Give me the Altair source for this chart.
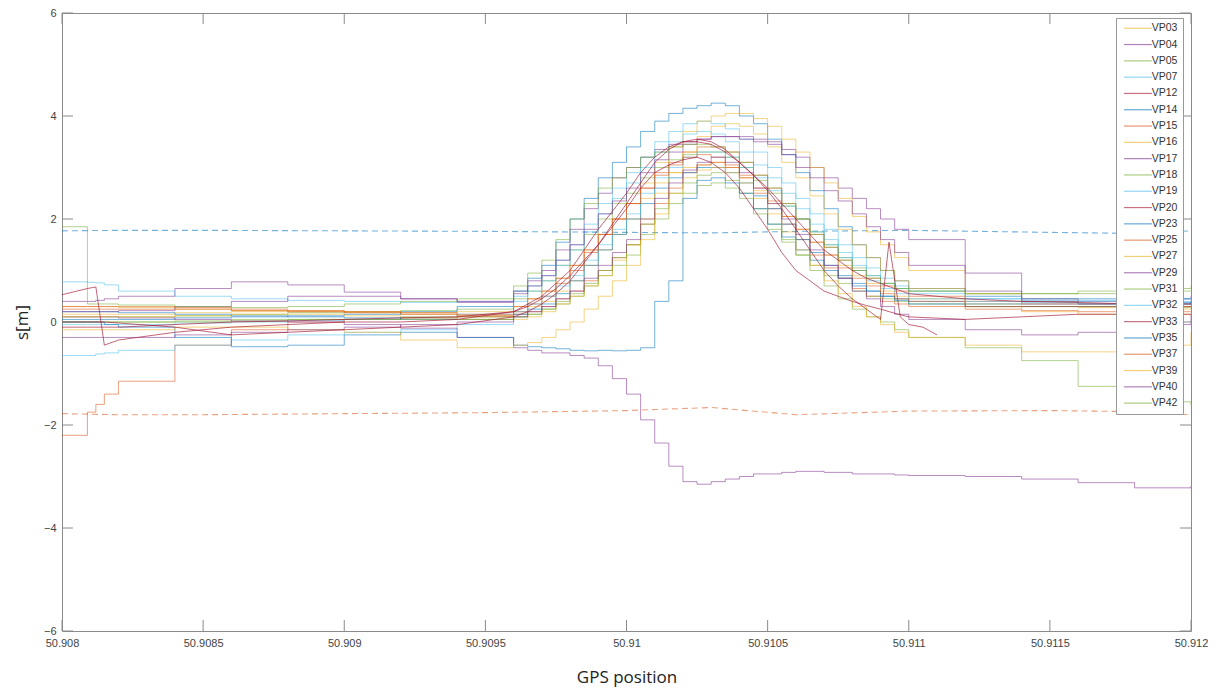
import altair as alt
import pandas as pd

# ---------------- data ----------------
GRID = [50.9080, 50.90809, 50.90812, 50.90815, 50.9082, 50.9084, 50.9086, 50.9088, 50.9090, 50.9092, 50.9094,
        50.9096, 50.90965, 50.9097, 50.90975, 50.9098, 50.90985, 50.9099, 50.90995, 50.9100, 50.91005,
        50.9101, 50.91015, 50.9102, 50.91025, 50.9103, 50.91035, 50.9104, 50.91045, 50.9105, 50.91055,
        50.9106, 50.91065, 50.9107, 50.91075, 50.9108, 50.91085, 50.9109, 50.91095, 50.9110,
        50.9112, 50.9114, 50.9116, 50.9118, 50.9120]

VP03 = [0.30, 0.30, 0.30, 0.30, 0.28, 0.25, 0.22, 0.20, 0.18, 0.15, 0.12,
        0.2, 0.3, 0.4, 0.6, 0.8, 1.1, 1.4, 1.7, 2.0, 2.4, 2.7, 2.9, 3.0, 3.05, 3.1,
        3.0, 2.8, 2.55, 2.3, 2.05, 1.8, 1.55, 1.3, 1.1, 0.9, 0.75, 0.6, 0.5, 0.45,
        0.35, 0.3, 0.28, 0.25, 0.25]
VP04 = [0.40, 0.40, 0.42, 0.45, 0.50, 0.65, 0.78, 0.72, 0.58, 0.45, 0.38,
        0.6, 0.8, 1.0, 1.4, 1.8, 2.2, 2.5, 2.8, 3.0, 3.2, 3.35, 3.45, 3.5, 3.55, 3.6,
        3.6, 3.6, 3.55, 3.5, 3.35, 3.2, 3.0, 2.8, 2.6, 2.4, 2.2, 2.0, 1.8, 1.6,
        0.95, 0.45, 0.4, 0.45, 0.5]
VP05 = [0.10, 0.10, 0.10, 0.10, 0.10, 0.12, 0.15, 0.18, 0.20, 0.22, 0.25,
        0.45, 0.6, 0.8, 1.1, 1.4, 1.7, 2.0, 2.3, 2.5, 2.8, 3.0, 3.15, 3.25, 3.3, 3.3,
        3.2, 3.0, 2.75, 2.5, 2.25, 2.0, 1.75, 1.5, 1.25, 1.05, 0.9, 0.75, 0.65, 0.6,
        0.55, 0.55, 0.55, 0.6, 0.6]
VP07 = [0.78, 0.77, 0.76, 0.72, 0.60, 0.50, 0.45, 0.42, 0.40, 0.38, 0.40,
        0.5, 0.7, 0.9, 1.2, 1.5, 1.9, 2.3, 2.6, 2.9, 3.2, 3.5, 3.7, 3.85, 3.9, 3.85,
        3.75, 3.55, 3.3, 3.0, 2.7, 2.4, 2.1, 1.8, 1.5, 1.25, 1.05, 0.85, 0.7, 0.6,
        0.45, 0.4, 0.4, 0.4, 0.4]
VP12 = [0.53, 0.65, 0.68, -0.45, -0.35, -0.2, -0.1, -0.05, 0.0, 0.0, 0.05,
        0.2, 0.35, 0.5, 0.75, 1.0, 1.4, 1.8, 2.15, 2.5, 2.9, 3.2, 3.4, 3.5, 3.5, 3.45,
        3.3, 3.1, 2.85, 2.6, 2.3, 2.0, 1.7, 1.4, 1.2, 1.0, 0.85, 0.75, 0.65, 0.55,
        0.45, 0.4, 0.38, 0.35, 0.35]
VP14 = [0.05, 0.05, 0.05, 0.05, 0.05, 0.08, 0.10, 0.12, 0.15, 0.20, 0.30,
        0.6, 0.85, 1.1, 1.55, 2.0, 2.4, 2.8, 3.1, 3.4, 3.7, 3.9, 4.05, 4.15, 4.2, 4.25,
        4.2, 4.0, 3.85, 3.55, 3.25, 2.9, 2.55, 2.2, 1.85, 1.5, 1.25, 1.0, 0.8, 0.65,
        0.5, 0.45, 0.45, 0.45, 0.45]
VP15 = [-2.2, -1.75, -1.6, -1.4, -1.15, -0.45, -0.15, 0.0, 0.05, 0.08, 0.1,
        0.15, 0.2, 0.3, 0.45, 0.6, 0.8, 1.0, 1.25, 1.5, 1.9, 2.3, 2.6, 2.9, 3.05, 3.1,
        3.0, 2.8, 2.5, 2.2, 1.9, 1.6, 1.3, 1.05, 0.85, 0.65, 0.5, 0.4, 0.35, 0.3,
        0.25, 0.22, 0.2, 0.2, 0.2]
VP16 = [0.15, 0.15, 0.15, 0.15, 0.15, 0.18, 0.20, 0.22, 0.20, 0.18, 0.20,
        0.3, 0.45, 0.6, 0.85, 1.1, 1.4, 1.7, 2.0, 2.3, 2.7, 3.1, 3.4, 3.7, 3.9, 4.0,
        4.05, 4.05, 3.95, 3.8, 3.55, 3.3, 3.0, 2.7, 2.4, 2.05, 1.75, 1.5, 1.25, 1.0,
        0.55, 0.4, 0.35, 0.3, 0.3]
VP17 = [0.10, 0.10, 0.10, 0.10, 0.08, 0.05, 0.02, 0.0, -0.05, -0.12, -0.3,
        -0.5, -0.55, -0.6, -0.6, -0.65, -0.7, -0.85, -1.1, -1.4, -1.9, -2.35, -2.8, -3.1, -3.15, -3.1,
        -3.05, -3.0, -2.95, -2.95, -2.92, -2.9, -2.9, -2.92, -2.92, -2.95, -2.95, -2.95, -2.97, -2.98,
        -3.0, -3.05, -3.12, -3.22, -3.18]
VP18 = [0.0, 0.0, 0.0, 0.0, 0.0, 0.02, 0.05, 0.05, 0.05, 0.08, 0.1,
        0.1, 0.15, 0.25, 0.35, 0.5, 0.7, 0.9, 1.1, 1.3, 1.7, 2.0, 2.3, 2.5, 2.65, 2.7,
        2.6, 2.4, 2.1, 1.8, 1.55, 1.3, 1.1, 0.9, 0.75, 0.6, 0.5, 0.45, 0.4, 0.35,
        0.3, 0.3, 0.3, 0.28, 0.28]
VP19 = [-0.05, -0.05, -0.05, -0.05, -0.05, -0.02, 0.0, 0.03, 0.05, 0.1, 0.15,
        0.4, 0.6, 0.8, 1.1, 1.4, 1.75, 2.1, 2.4, 2.7, 3.0, 3.3, 3.5, 3.65, 3.7, 3.65,
        3.5, 3.3, 3.05, 2.8, 2.5, 2.2, 1.9, 1.6, 1.35, 1.1, 0.9, 0.75, 0.65, 0.55,
        0.45, 0.42, 0.42, 0.45, 0.45]
VP20 = [-0.1, -0.1, -0.1, -0.1, -0.1, -0.05, 0.0, 0.02, 0.05, 0.08, 0.1,
        0.2, 0.3, 0.45, 0.65, 0.9, 1.2, 1.5, 1.85, 2.2, 2.6, 2.9, 3.05, 3.15, 3.2, 3.1,
        2.9, 2.6, 2.2, 1.8, 1.35, 1.0, 0.8, 0.6, 0.5, 0.4, 0.32, 0.25, 0.17, 0.1,
        0.05, 0.1, 0.15, 0.15, 0.15]
VP23 = [0.2, 0.2, 0.2, 0.2, 0.18, 0.15, 0.12, 0.1, 0.08, 0.05, 0.05,
        0.15, 0.25, 0.35, 0.55, 0.8, 1.1, 1.4, 1.7, 2.0, 2.3, 2.6, 2.8, 2.9, 3.0, 3.0,
        2.9, 2.7, 2.45, 2.2, 1.9, 1.6, 1.35, 1.1, 0.9, 0.75, 0.6, 0.5, 0.45, 0.4,
        0.35, 0.35, 0.35, 0.38, 0.4]
VP25 = [0.25, 0.25, 0.25, 0.25, 0.25, 0.25, 0.22, 0.2, 0.18, 0.15, 0.12,
        0.2, 0.35, 0.5, 0.75, 1.0, 1.35, 1.7, 2.0, 2.3, 2.6, 2.9, 3.1, 3.3, 3.4, 3.4,
        3.3, 3.1, 2.85, 2.6, 2.3, 2.0, 1.7, 1.45, 1.2, 1.0, 0.85, 0.7, 0.6, 0.5,
        0.4, 0.35, 0.35, 0.35, 0.35]
VP27 = [0.1, 0.1, 0.1, 0.1, 0.1, 0.12, 0.15, 0.15, 0.12, 0.1, 0.05,
        0.05, 0.1, 0.2, 0.35, 0.5, 0.7, 0.9, 1.2, 1.5, 2.0, 2.5, 2.9, 3.3, 3.6, 3.8,
        3.85, 3.8, 3.65, 3.4, 3.1, 2.8, 2.45, 2.1, 1.8, 1.5, 1.25, 1.0, 0.8, 0.65,
        0.3, 0.2, 0.15, 0.15, 0.15]
VP29 = [0.2, 0.2, 0.2, 0.2, 0.22, 0.3, 0.4, 0.5, 0.5, 0.45, 0.4,
        0.55, 0.7, 0.9, 1.2, 1.5, 1.8, 2.1, 2.35, 2.6, 2.9, 3.15, 3.3, 3.45, 3.55, 3.6,
        3.6, 3.55, 3.5, 3.45, 3.25, 3.0, 2.8, 2.55, 2.35, 2.1, 1.85, 1.6, 1.35, 1.1,
        0.6, 0.4, 0.35, 0.3, 0.3]
VP31 = [0.0, 0.0, 0.0, 0.0, 0.0, 0.0, 0.02, 0.05, 0.05, 0.05, 0.05,
        0.1, 0.15, 0.25, 0.4, 0.55, 0.75, 1.0, 1.25, 1.5, 1.9, 2.2, 2.5, 2.7, 2.85, 2.9,
        2.75, 2.5, 2.2, 1.9, 1.6, 1.3, 1.0, 0.7, 0.45, 0.25, 0.1, 0.0, -0.15, -0.3,
        -0.5, -0.75, -1.25, -1.55, -1.62]
VP32 = [-0.65, -0.65, -0.62, -0.6, -0.55, -0.45, -0.35, -0.25, -0.2, -0.15, -0.05,
        0.2, 0.35, 0.5, 0.7, 0.9, 1.2, 1.5, 1.8, 2.1, 2.5, 2.8, 3.0, 3.2, 3.3, 3.3,
        3.2, 3.0, 2.8, 2.55, 2.25, 2.0, 1.75, 1.5, 1.25, 1.0, 0.8, 0.65, 0.55, 0.45,
        0.4, 0.38, 0.35, 0.35, 0.35]
VP33 = [0.0, 0.0, 0.0, 0.0, -0.02, -0.1, -0.25, -0.2, -0.15, -0.1, -0.05,
        0.1, 0.2, 0.35, 0.55, 0.8, 1.15, 1.5, 1.9, 2.3, 2.7, 3.1, 3.35, 3.5, 3.55, 3.5,
        3.35, 3.1, 2.85, 2.55, 2.2, 1.8, 1.4, 1.0, 0.7, 0.45, 0.25, 0.05, None, -0.05,
        None, None, None, None, None]
VP33_SPIKE_X = [50.91093, 50.91097, 50.91105, 50.91110]
VP33_SPIKE_Y = [1.55, 0.1, -0.1, -0.25]
VP35 = [0.0, 0.0, 0.0, -0.05, -0.1, -0.3, -0.48, -0.45, -0.25, -0.2, -0.3,
        -0.45, -0.48, -0.5, -0.52, -0.55, -0.56, -0.55, -0.56, -0.55, -0.5, 0.4, 0.8, 2.4, 2.75, 2.8,
        2.7, 2.5, 2.2, 1.9, 1.65, 1.4, 1.2, 1.0, 0.85, 0.7, 0.6, 0.5, 0.42, 0.35,
        0.3, 0.3, 0.3, 0.35, 0.4]
VP37 = [0.3, 0.3, 0.3, 0.3, 0.3, 0.28, 0.25, 0.22, 0.2, 0.18, 0.15,
        0.3, 0.45, 0.6, 0.85, 1.1, 1.4, 1.7, 2.0, 2.3, 2.6, 2.85, 3.05, 3.2, 3.25, 3.2,
        3.05, 2.85, 2.6, 2.35, 2.05, 1.8, 1.55, 1.3, 1.05, 0.85, 0.7, 0.55, 0.45, 0.4,
        0.3, 0.3, 0.3, 0.3, 0.3]
VP39 = [-0.15, -0.15, -0.15, -0.15, -0.15, -0.1, -0.1, -0.15, -0.2, -0.35, -0.5,
        -0.45, -0.4, -0.3, -0.15, 0.0, 0.25, 0.5, 0.8, 1.1, 1.6, 2.1, 2.5, 2.8, 2.95, 3.0,
        2.9, 2.7, 2.4, 2.1, 1.75, 1.4, 1.1, 0.8, 0.55, 0.3, 0.1, -0.05, -0.2, -0.3,
        -0.45, -0.58, -0.58, -0.45, -0.2]
VP40 = [-0.3, -0.3, -0.3, -0.3, -0.3, -0.25, -0.2, -0.15, -0.1, -0.05, 0.0,
        0.1, 0.2, 0.3, 0.45, 0.6, 0.85, 1.1, 1.35, 1.6, 2.0, 2.4, 2.7, 2.95, 3.1, 3.2,
        3.1, 2.9, 2.6, 2.3, 2.0, 1.7, 1.4, 1.1, 0.85, 0.6, 0.45, 0.3, 0.15, 0.05,
        -0.15, -0.25, -0.2, -0.05, 0.15]
VP42 = [1.85, 0.35, 0.35, 0.35, 0.33, 0.3, 0.28, 0.3, 0.35, 0.4, 0.45,
        0.7, 0.95, 1.2, 1.6, 2.0, 2.3, 2.6, 2.8, 3.0, 3.2, 3.3, 3.4, 3.45, 3.45, 3.4,
        3.3, 3.1, 2.85, 2.6, 2.3, 2.0, 1.7, 1.45, 1.2, 1.0, 0.85, 0.75, 0.65, 0.6,
        0.55, 0.55, 0.6, 0.65, 0.7]

NAMES = ["VP03", "VP04", "VP05", "VP07", "VP12", "VP14", "VP15", "VP16", "VP17", "VP18", "VP19", "VP20",
         "VP23", "VP25", "VP27", "VP29", "VP31", "VP32", "VP33", "VP35", "VP37", "VP39", "VP40", "VP42"]
SERIES = [VP03, VP04, VP05, VP07, VP12, VP14, VP15, VP16, VP17, VP18, VP19, VP20,
          VP23, VP25, VP27, VP29, VP31, VP32, VP33, VP35, VP37, VP39, VP40, VP42]
LINEAR = ["VP12", "VP20", "VP33"]
COLORS = ["#EDB120", "#7E2F8E", "#77AC30", "#4DBEEE", "#A2142F", "#0072BD", "#D95319",
          "#EDB120", "#7E2F8E", "#77AC30", "#4DBEEE", "#A2142F", "#0072BD", "#D95319",
          "#EDB120", "#7E2F8E", "#77AC30", "#4DBEEE", "#A2142F", "#0072BD", "#D95319",
          "#EDB120", "#7E2F8E", "#77AC30"]

DASH_X = [50.9080, 50.9082, 50.9085, 50.9090, 50.9095, 50.9100, 50.9103, 50.9106, 50.9110, 50.9115, 50.9118, 50.9120]
UPPER_DASH = [1.77, 1.78, 1.78, 1.77, 1.76, 1.74, 1.73, 1.76, 1.78, 1.74, 1.72, 1.77]
LOWER_DASH = [-1.78, -1.80, -1.80, -1.78, -1.76, -1.72, -1.66, -1.80, -1.73, -1.72, -1.74, -1.80]

X_TICKS = [50.908, 50.9085, 50.909, 50.9095, 50.91, 50.9105, 50.911, 50.9115, 50.912]
Y_TICKS = [-6, -4, -2, 0, 2, 4, 6]

for _n, _s in zip(NAMES, SERIES):
    assert len(_s) == len(GRID), (_n, len(_s))

# ---------------- tables ----------------
step_rows, lin_rows = [], []
for name, vals in zip(NAMES, SERIES):
    target = lin_rows if name in LINEAR else step_rows
    for g, v in zip(GRID, vals):
        if v is not None:
            target.append({"gps": g, "s": v, "series": name})
for g, v in zip(VP33_SPIKE_X, VP33_SPIKE_Y):
    lin_rows.append({"gps": g, "s": v, "series": "VP33"})
df_step = pd.DataFrame(step_rows)
df_lin = pd.DataFrame(lin_rows)
df_up = pd.DataFrame({"gps": DASH_X, "s": UPPER_DASH})
df_lo = pd.DataFrame({"gps": DASH_X, "s": LOWER_DASH})
df_xt = pd.DataFrame({"gps": X_TICKS})
df_yt = pd.DataFrame({"s": Y_TICKS})

W, H = 1129, 618
XS = alt.Scale(domain=[50.908, 50.912], nice=False, zero=False)
YS = alt.Scale(domain=[-6, 6], nice=False, zero=False)
XAX = alt.Axis(values=X_TICKS, format=".4~f", labelFlush=False, labelPadding=6, title="GPS position",
               titleX=W / 2, titleY=46, titleAlign="center", titleBaseline="middle")
YAX = alt.Axis(values=Y_TICKS, format="d", labelPadding=6, title="s[m]",
               titleX=-40, titleY=H / 2, titleAngle=270, titleAlign="center", titleBaseline="middle")


def xenc(field="gps:Q"):
    return alt.X(field, scale=XS, axis=XAX)


def yenc(field="s:Q"):
    return alt.Y(field, scale=YS, axis=YAX)


LEG = alt.Legend(title=None, orient="none", legendX=1054, legendY=5, symbolType="M-4,0L4,0",
                 symbolSize=49, symbolOffset=11.75, symbolStrokeWidth=1.2, symbolOpacity=0.6,
                 labelOffset=8.5, labelFontSize=10.5, labelFont="Liberation Sans", labelColor="#333",
                 rowPadding=5.3, padding=5, strokeColor="#999", fillColor="#ffffff", cornerRadius=0)
COLOR = alt.Color("series:N", scale=alt.Scale(domain=NAMES, range=COLORS), legend=LEG)

upper = alt.Chart(df_up).mark_line(strokeDash=[6, 4], strokeWidth=1.1, color="#0072BD", opacity=0.55).encode(
    x=xenc(), y=yenc())
lower = alt.Chart(df_lo).mark_line(strokeDash=[6, 4], strokeWidth=1.1, color="#D95319", opacity=0.55).encode(
    x=xenc(), y=yenc())
stepped = alt.Chart(df_step).mark_line(interpolate="step-after", strokeWidth=1.0, opacity=0.55, clip=True).encode(
    x=xenc(), y=yenc(), color=COLOR)
linear = alt.Chart(df_lin).mark_line(interpolate="linear", strokeWidth=1.0, opacity=0.65, clip=True).encode(
    x=xenc(), y=yenc(), color=COLOR)

TICK_COLOR = "#8a8a8a"
xt_bottom = alt.Chart(df_xt).mark_rule(color=TICK_COLOR, strokeWidth=1).encode(
    x=xenc(), y=alt.value(H), y2=alt.value(H - 11))
xt_top = alt.Chart(df_xt).mark_rule(color=TICK_COLOR, strokeWidth=1).encode(
    x=xenc(), y=alt.value(0), y2=alt.value(11))
yt_left = alt.Chart(df_yt).mark_rule(color=TICK_COLOR, strokeWidth=1).encode(
    y=yenc(), x=alt.value(0), x2=alt.value(11))
yt_right = alt.Chart(df_yt).mark_rule(color=TICK_COLOR, strokeWidth=1).encode(
    y=yenc(), x=alt.value(W), x2=alt.value(W - 11))

chart = alt.layer(upper, lower, stepped, linear, xt_bottom, xt_top, yt_left, yt_right).properties(
    width=W, height=H,
    autosize=alt.AutoSizeParams(type="none"),
    padding={"left": 54, "top": 5, "right": 17, "bottom": 58},
).configure_view(
    stroke="#8a8a8a", strokeWidth=1
).configure_axis(
    ticks=False, domain=False, grid=False,
    labelFont="Liberation Sans", labelFontSize=11, labelColor="#444",
    titleFont="Open Sans", titleFontSize=17, titleFontWeight="normal", titleColor="#222"
)

chart.save("out.html", embed_options={"renderer": "svg", "actions": False})
